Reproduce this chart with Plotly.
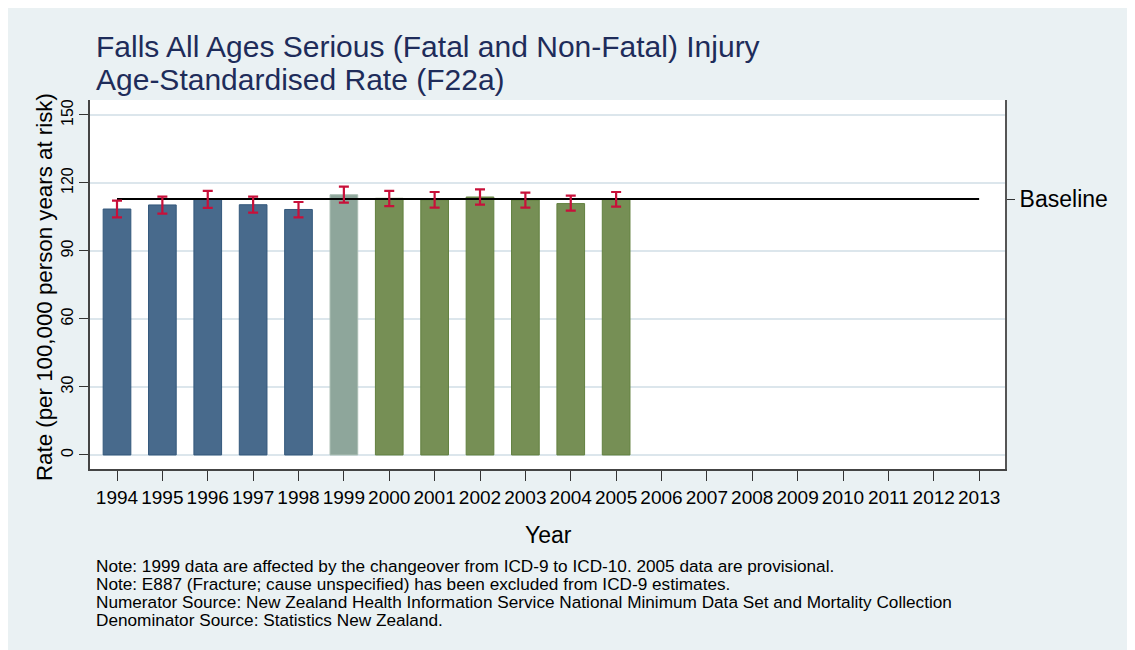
import plotly.graph_objects as go

# ---- data ----
all_years = list(range(1994, 2014))
years = list(range(1994, 2006))
rate = [108.5, 110.3, 112.8, 110.4, 108.3, 114.8, 113.2, 112.6, 113.8, 112.5, 110.9, 112.7]
lower = [104.8, 106.5, 109.0, 106.9, 104.8, 111.3, 109.8, 109.1, 110.4, 109.1, 107.8, 109.6]
upper = [112.2, 114.0, 116.5, 114.0, 111.6, 118.4, 116.5, 116.0, 117.2, 115.7, 114.4, 116.0]
coding = ["ICD-9"] * 5 + ["Changeover"] + ["ICD-10"] * 6
baseline = 112.9
y_ticks = [0, 30, 60, 90, 120, 150]
title_lines = ["Falls All Ages Serious (Fatal and Non-Fatal) Injury",
               "Age-Standardised Rate (F22a)"]
notes = [
    "Note: 1999 data are affected by the changeover from ICD-9 to ICD-10. 2005 data are provisional.",
    "Note: E887 (Fracture; cause unspecified) has been excluded from ICD-9 estimates.",
    "Numerator Source: New Zealand Health Information Service National Minimum Data Set and Mortality Collection",
    "Denominator Source: Statistics New Zealand.",
]

fill = {"ICD-9": "#486A8C", "Changeover": "#8EA69B", "ICD-10": "#768F55"}
edge = {"ICD-9": "#34587C", "Changeover": "#A9BDB3", "ICD-10": "#62803F"}

FONT = "Liberation Sans, Arial, sans-serif"

OFF = 8  # page body margin offset
W, H = 1135, 650
# plot area in screen px: x 90..1005, y 100..469
L = 90 - OFF
T = 100 - OFF
R = W - (1005 - OFF)
B = H - (469 - OFF)
pw, ph = W - L - R, H - T - B

def px_x(x):
    return (x - OFF - L) / pw

def px_y(y):
    return (H - B - (y - OFF)) / ph

fig = go.Figure()

fig.add_trace(go.Bar(
    x=years, y=rate, width=0.61,
    marker=dict(color=[fill[c] for c in coding],
                line=dict(color=[edge[c] for c in coding], width=1)),
    showlegend=False, hoverinfo="x+y",
))

fig.add_trace(go.Scatter(
    x=[all_years[0], all_years[-1]], y=[baseline, baseline],
    mode="lines", line=dict(color="black", width=2),
    showlegend=False, hoverinfo="skip",
))

fig.add_trace(go.Scatter(
    x=years, y=rate, mode="markers",
    marker=dict(size=1, color="rgba(0,0,0,0)"),
    error_y=dict(type="data", symmetric=False,
                 array=[u - r for u, r in zip(upper, rate)],
                 arrayminus=[r - l for r, l in zip(rate, lower)],
                 color="#C8103A", thickness=2.2, width=5),
    showlegend=False, hoverinfo="skip",
))

# dummy trace for the right axis
fig.add_trace(go.Scatter(x=[years[0]], y=[baseline], yaxis="y2",
                         mode="markers", marker=dict(size=1, color="rgba(0,0,0,0)"),
                         showlegend=False, hoverinfo="skip"))

yrange = [-6.2, 156.6]

fig.update_layout(
    width=W, height=H,
    margin=dict(l=L, r=R, t=T, b=B, pad=0),
    paper_bgcolor="white",
    plot_bgcolor="white",
    font=dict(family=FONT, color="black"),
    xaxis=dict(
        range=[1993.405, 2013.57],
        tickmode="array", tickvals=all_years, ticktext=[str(y) for y in all_years],
        ticks="outside", ticklen=10, tickcolor="#333333", tickwidth=1,
        tickangle=0,
        tickfont=dict(size=19, color="black"),
        showgrid=False, zeroline=False,
        showline=True, linecolor="#444444", linewidth=2,
    ),
    yaxis=dict(
        range=yrange,
        tickmode="array", tickvals=y_ticks,
        ticks="outside", ticklen=9, tickcolor="#333333", tickwidth=1,
        tickangle=-90,
        tickfont=dict(size=16, color="black"),
        showgrid=True, gridcolor="#DCE6EC", gridwidth=2,
        zeroline=False,
        showline=True, linecolor="#444444", linewidth=2,
    ),
    yaxis2=dict(
        range=yrange, overlaying="y", side="right",
        tickmode="array", tickvals=[baseline], ticktext=["Baseline"],
        ticks="outside", ticklen=8, tickcolor="#333333", tickwidth=1,
        tickfont=dict(size=23, color="black"),
        showgrid=False, zeroline=False,
        showline=True, linecolor="#555555", linewidth=2,
    ),
)

# light outer background
fig.add_shape(type="rect", xref="paper", yref="paper", layer="below",
              x0=px_x(OFF), x1=px_x(W + OFF + 5), y0=px_y(H + OFF + 5), y1=px_y(OFF),
              fillcolor="#EAF1F3", line=dict(width=0))
# white plot region
fig.add_shape(type="rect", xref="paper", yref="paper", layer="below",
              x0=0, x1=1, y0=0, y1=1,
              fillcolor="white", line=dict(width=0))

annotations = []
for i, line in enumerate(title_lines):
    annotations.append(dict(
        text=line, xref="paper", yref="paper",
        x=px_x(94), y=px_y(46 + 33 * i), xanchor="left", yanchor="middle",
        showarrow=False, font=dict(size=30, color="#1E2C5A", family=FONT),
    ))
annotations.append(dict(
    text="Rate (per 100,000 person years at risk)", xref="paper", yref="paper",
    x=px_x(44), y=px_y(287), xanchor="center", yanchor="middle", textangle=-90,
    showarrow=False, font=dict(size=22.3, color="black", family=FONT),
))
annotations.append(dict(
    text="Year", xref="paper", yref="paper",
    x=px_x(548), y=px_y(535), xanchor="center", yanchor="middle",
    showarrow=False, font=dict(size=23, color="black", family=FONT),
))
for i, line in enumerate(notes):
    annotations.append(dict(
        text=line, xref="paper", yref="paper",
        x=px_x(94), y=px_y(566 + 17.9 * i), xanchor="left", yanchor="middle",
        showarrow=False, font=dict(size=17.2, color="black", family=FONT),
    ))
fig.update_layout(annotations=annotations)

fig.write_html("out.html")
